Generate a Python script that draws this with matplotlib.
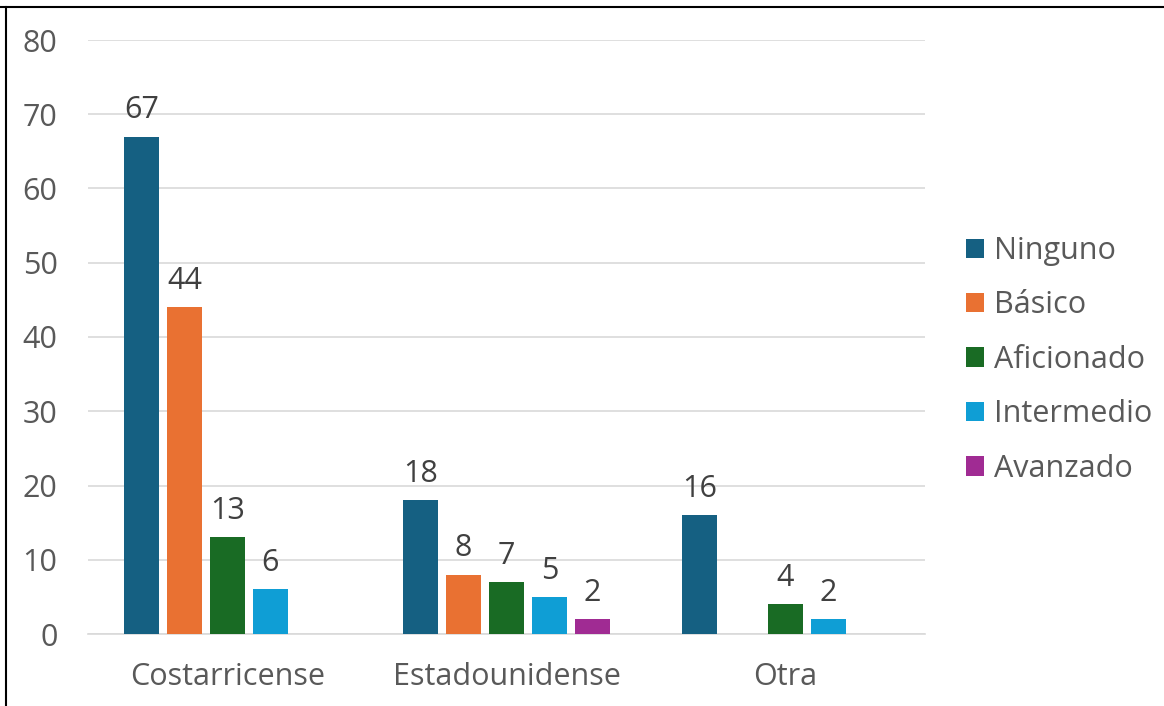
import matplotlib.pyplot as plt
from matplotlib.lines import Line2D
import numpy as np

plt.rcParams['font.family'] = ['Open Sans', 'DejaVu Sans']

# Data
categories = ['Costarricense', 'Estadounidense', 'Otra']
series = ['Ninguno', 'Básico', 'Aficionado', 'Intermedio', 'Avanzado']
ninguno = [67, 18, 16]
basico = [44, 8, 0]
aficionado = [13, 7, 4]
intermedio = [6, 5, 2]
avanzado = [0, 2, 0]
colors = ['#156082', '#E97132', '#196B24', '#0F9ED5', '#A02B93']

values = [ninguno, basico, aficionado, intermedio, avanzado]

fig = plt.figure(figsize=(11.64, 7.06), dpi=100)
ax = fig.add_axes([88 / 1164, 72 / 706, 837 / 1164, 594 / 706])

x = np.arange(len(categories))
pitch = 0.154
width = 0.125
for i, (name, vals, col) in enumerate(zip(series, values, colors)):
    pos = x + (i - 2) * pitch
    bars = ax.bar(pos, vals, width, color=col, label=name, zorder=3)
    for b, v in zip(bars, vals):
        if v > 0:
            ax.annotate(str(v), (b.get_x() + b.get_width() / 2, v),
                        xytext=(0, 8), textcoords='offset points',
                        ha='center', va='bottom', fontsize=22, color='#404040')

ax.set_xlim(-0.5, 2.5)
ax.set_ylim(0, 80)
ax.set_yticks(range(0, 81, 10))
ax.set_xticks(x)
ax.set_xticklabels(categories)
ax.grid(axis='y', color='#D9D9D9', linewidth=1.2, zorder=0)
for s in ['top', 'right', 'left']:
    ax.spines[s].set_visible(False)
ax.spines['bottom'].set_color('#D9D9D9')
ax.spines['bottom'].set_linewidth(1.2)
ax.tick_params(axis='both', length=0, labelsize=22, labelcolor='#595959')
ax.tick_params(axis='y', pad=22)
ax.tick_params(axis='x', pad=20)

ax.legend(loc='upper left', bbox_to_anchor=(966 / 1164, 1 - 236 / 706),
          bbox_transform=fig.transFigure, frameon=False, fontsize=22,
          labelcolor='#595959', handlelength=0.6, handleheight=0.6,
          handletextpad=0.3, labelspacing=0.8, borderaxespad=0,
          borderpad=0)

# Frame lines along top and left edge
fig.add_artist(Line2D([0, 1], [1 - 7 / 706, 1 - 7 / 706], color='black',
                      linewidth=1.5, transform=fig.transFigure))
fig.add_artist(Line2D([6 / 1164, 6 / 1164], [0, 1 - 7 / 706], color='black',
                      linewidth=1.5, transform=fig.transFigure))

plt.savefig('out.png', dpi=100)
